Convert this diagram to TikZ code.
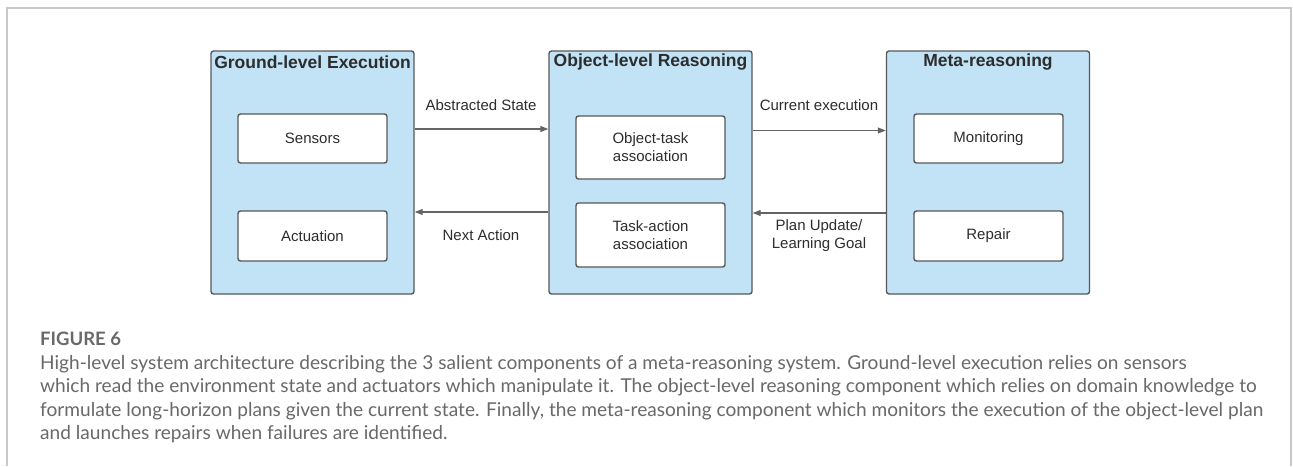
\documentclass[tikz,border=0pt]{standalone}
\usepackage{fontspec}
\setmainfont{Liberation Sans}
\newfontfamily\capfont{Lato}
\usetikzlibrary{arrows.meta}
\definecolor{panelblue}{RGB}{193,227,245}
\definecolor{edgegray}{RGB}{88,88,88}
\definecolor{inkdark}{RGB}{45,45,45}
\definecolor{linkgray}{RGB}{100,100,100}
\definecolor{capgray}{RGB}{105,105,105}
\definecolor{framegray}{RGB}{200,200,200}
\tikzset{
  panel/.style={draw=edgegray, fill=panelblue, line width=1.4pt, rounded corners=2.5pt,
    minimum width=203pt, minimum height=243pt, inner sep=0pt},
  unit/.style={draw=edgegray, fill=white, line width=1.4pt, rounded corners=2.5pt,
    minimum width=149pt, inner sep=0pt, align=center, text=inkdark,
    font=\fontsize{15}{18}\selectfont},
  paneltitle/.style={text=inkdark, font=\fontsize{17.5}{20}\selectfont\bfseries, inner sep=0pt},
  linklabel/.style={text=inkdark, font=\fontsize{15}{18}\selectfont, align=center, inner sep=0pt},
  link/.style={draw=linkgray, line width=1.2pt, -{Triangle[length=8pt,width=6pt]}},
  capline/.style={anchor=base west, inner sep=0pt, text=capgray,
    font=\capfont\fontsize{19.1}{23.6}\selectfont},
}
\begin{document}
\begin{tikzpicture}[x=1pt, y=-1pt]
\useasboundingbox (0,0) rectangle (1293,466);
\fill[white] (0,0) rectangle (1293,466);
% page frame, open at the bottom
\draw[framegray, line width=1.2pt] (7,466) -- (7,8) -- (1291,8) -- (1291,466);

% the three layers
\node[panel] (ground) at (312.5,172.5) {};
\node[panel] (object) at (650.5,172.5) {};
\node[panel] (meta)   at (988,172.5) {};

\node[paneltitle] (groundT) at (ground.north |- 0,62) {Ground-level Execution};
\node[paneltitle] (objectT) at (object.north |- 0,62) {Object-level Reasoning};
\node[paneltitle] (metaT)   at (meta.north |- 0,62)   {Meta-reasoning};

% components inside each layer
\node[unit, minimum height=49pt] (sensors)   at (312.5,138.5) {Sensors};
\node[unit, minimum height=50pt] (actuation) at (312.5,236)   {Actuation};
\node[unit, minimum height=63pt] (objtask)   at (650.5,147.5) {Object-task\\association};
\node[unit, minimum height=64pt] (taskact)   at (650.5,235)   {Task-action\\association};
\node[unit, minimum height=49pt] (monitor)   at (988.5,138.5) {Monitoring};
\node[unit, minimum height=50pt] (repair)    at (988.5,236)   {Repair};

% information flow between layers
\draw[link] (ground.east |- 0,129) -- (object.west |- 0,129);
\draw[link] (object.west |- 0,212) -- (ground.east |- 0,212);
\draw[link] (object.east |- 0,130.5) -- (meta.west |- 0,130.5);
\draw[link] (meta.west |- 0,213) -- (object.east |- 0,213);

\node[linklabel] (lAbs)  at (481,105) {Abstracted State};
\node[linklabel] (lNext) at (481,235) {Next Action};
\node[linklabel] (lCur)  at (819,105) {Current execution};
\node[linklabel] (lPlan) at (819,235.5) {Plan Update/\\Learning Goal};

% caption
\node[anchor=base west, inner sep=0pt, text=capgray,
  font=\capfont\bfseries\fontsize{18.5}{20}\selectfont] (figlabel) at (40,345) {FIGURE 6};
\node[capline] (cap1) at (40,369)
  {High-level system architecture describing the 3 salient components of a meta-reasoning system. Ground-level execution relies on sensors};
\node[capline] (cap2) at (40,392.6)
  {which read the environment state and actuators which manipulate it. The object-level reasoning component which relies on domain knowledge to};
\node[capline] (cap3) at (40,416.2)
  {formulate long-horizon plans given the current state. Finally, the meta-reasoning component which monitors the execution of the object-level plan};
\node[capline] (cap4) at (40,439.8)
  {and launches repairs when failures are identified.};
\end{tikzpicture}
\end{document}
